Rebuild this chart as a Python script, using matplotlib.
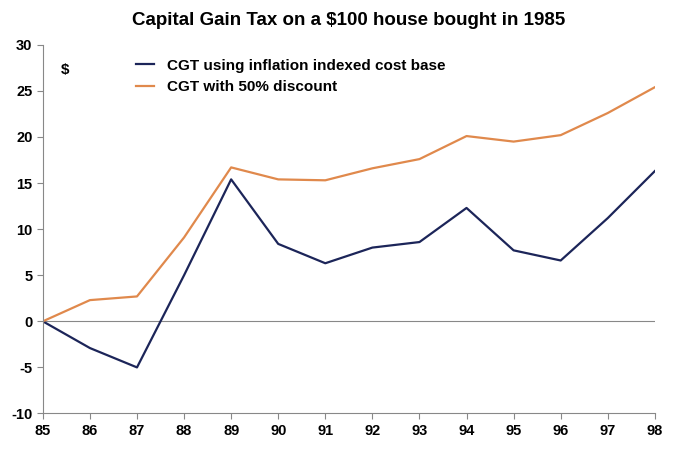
import numpy as np
import matplotlib.pyplot as plt

plt.rcParams['font.family'] = ['Liberation Sans', 'DejaVu Sans']
plt.rcParams['axes.unicode_minus'] = False

years = ['85', '86', '87', '88', '89', '90', '91', '92', '93', '94', '95', '96', '97', '98']
cgt_indexed = [0, -2.9, -5.0, 5.0, 15.4, 8.4, 6.3, 8.0, 8.6, 12.3, 7.7, 6.6, 11.2, 16.3]
cgt_discount = [0, 2.3, 2.7, 9.1, 16.7, 15.4, 15.3, 16.6, 17.6, 20.1, 19.5, 20.2, 22.6, 25.4]

fig, ax = plt.subplots(figsize=(6.8, 4.62), dpi=100)
fig.subplots_adjust(left=0.063, right=0.963, top=0.903, bottom=0.105)

x = np.arange(len(years))
ax.plot(x, cgt_indexed, color='#1c2559', lw=1.6, label='CGT using inflation indexed cost base')
ax.plot(x, cgt_discount, color='#e0894c', lw=1.6, label='CGT with 50% discount')
ax.axhline(0, color='#888888', lw=0.8, zorder=0)

ax.set_xlim(0, len(years) - 1)
ax.set_ylim(-10, 30)
ax.set_yticks(range(-10, 31, 5))
ax.set_xticks(x)
ax.set_xticklabels(years)
for lbl in ax.get_xticklabels() + ax.get_yticklabels():
    lbl.set_fontweight('bold')
    lbl.set_fontsize(10.5)
ax.tick_params(direction='out', length=4, color='#888888')
for s in ['top', 'right']:
    ax.spines[s].set_visible(False)
ax.spines['left'].set_color('#888888')
ax.spines['bottom'].set_color('#888888')

ax.text(0.03, 0.92, '$', transform=ax.transAxes, fontsize=11, fontweight='bold')
ax.legend(loc='upper left', bbox_to_anchor=(0.13, 1.0), frameon=False,
          prop={'weight': 'bold', 'size': 11}, handlelength=1.2, labelspacing=0.5)
ax.set_title('Capital Gain Tax on a $100 house bought in 1985', fontsize=13.5,
             fontweight='bold', pad=14)

fig.savefig('out.png')
